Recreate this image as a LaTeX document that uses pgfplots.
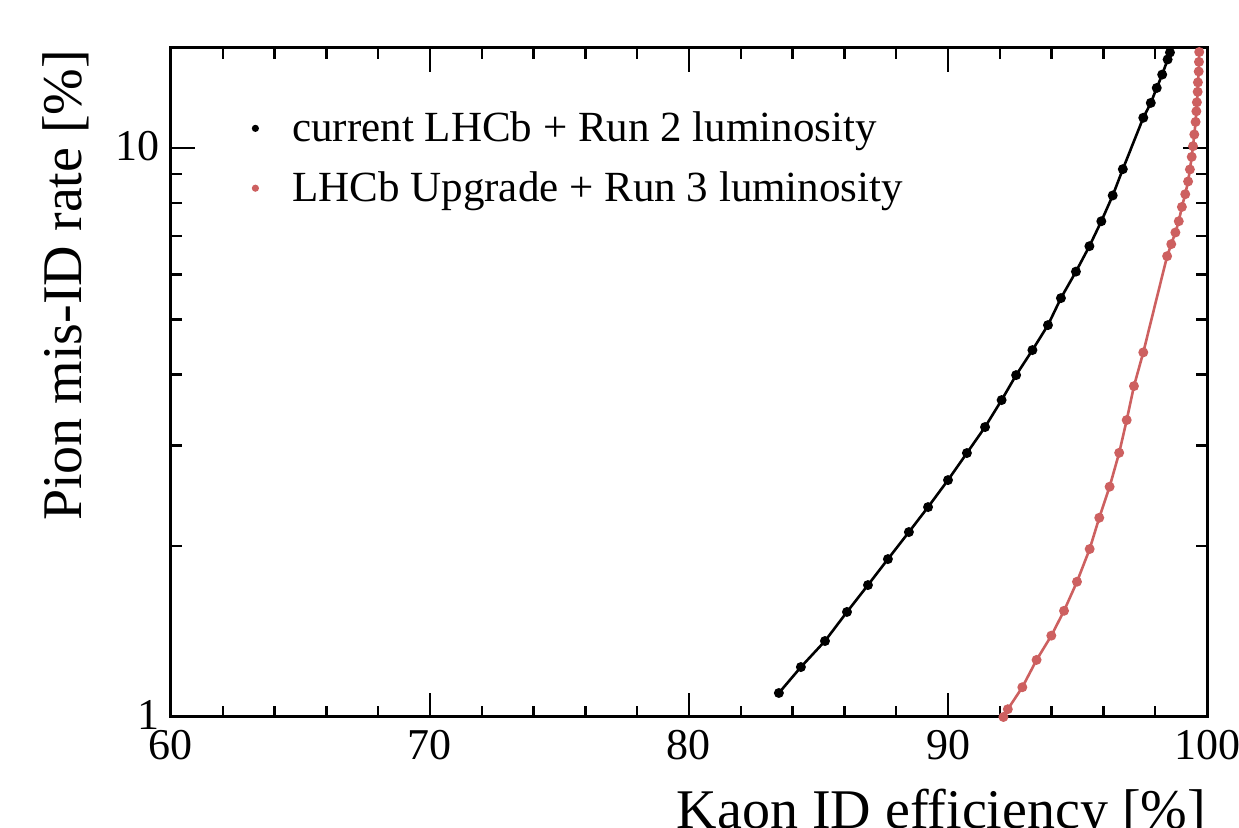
\documentclass[border=0pt]{standalone}
\usepackage{pgfplots}
\pgfplotsset{compat=1.18}
\usepackage{fontspec}
\setmainfont{Liberation Serif}
\definecolor{rootred}{RGB}{205,96,96}
\begin{document}
\begin{tikzpicture}
\begin{axis}[
  at={(0,0)}, anchor=south west,
  scale only axis,
  width=518pt, height=334.5pt,
  xmin=60, xmax=100,
  ymode=log, ymin=1, ymax=15,
  xtick={60,70,80,90,100},
  minor x tick num=4,
  ytick={1,10}, yticklabels={1,10},
  minor ytick={2,3,4,5,6,7,8,9},
  major tick length=12pt, minor tick length=5.5pt,
  tick align=inside,
  axis line style={line width=1.5pt},
  every tick/.style={black, line width=1.2pt},
  /pgf/number format/assume math mode=true,
  tick label style={font=\fontsize{22}{26}\selectfont},
  xticklabel style={yshift=-3pt},
  yticklabel style={xshift=-2.2pt, yshift=1pt},
  xlabel={Kaon ID efficiency [\%]},
  ylabel={Pion mis-ID rate [\%]},
  label style={font=\fontsize{28}{32}\selectfont},
  xlabel style={at={(axis description cs:1.006,-0.166)}, anchor=base east},
  ylabel style={at={(axis description cs:-0.0859,1.008)}, anchor=base east},
  legend style={at={(axis description cs:0.0695,0.905)}, anchor=north west,
    draw=none, fill=none, inner sep=0pt, column sep=12.5pt, row sep=13.5pt,
    font=\fontsize{21.5}{26}\selectfont, nodes={inner sep=0pt}},
  legend cell align=left,
  legend image code/.code={\path[draw=none] (-6pt,0pt) -- (6pt,0pt); \fill[#1, draw=none] (0pt,0pt) circle (1.8pt);},
]
\addplot[black, line width=1.3pt, mark=*, mark size=1.8pt] coordinates {
(83.47,1.102) (84.32,1.224) (85.25,1.360) (86.10,1.530) (86.91,1.706)
(87.68,1.895) (88.49,2.114) (89.23,2.339) (90.00,2.609) (90.73,2.911)
(91.43,3.234) (92.07,3.607) (92.63,3.991) (93.26,4.416) (93.86,4.886)
(94.36,5.450) (94.94,6.067) (95.46,6.725) (95.92,7.44) (96.36,8.257)
(96.75,9.185) (97.54,11.31) (97.83,12.01) (98.06,12.76) (98.27,13.47)
(98.48,14.32) (98.57,14.73)
};
\addlegendentry{current LHCb + Run 2 luminosity}
\addplot[rootred, line width=1.3pt, mark=*, mark size=1.8pt] coordinates {
(92.14,1.0) (92.31,1.032) (92.87,1.128) (93.42,1.260) (93.99,1.390)
(94.48,1.537) (94.98,1.729) (95.47,1.974) (95.84,2.240) (96.24,2.540)
(96.61,2.914) (96.90,3.327) (97.18,3.817) (97.54,4.375) (98.46,6.459)
(98.62,6.781) (98.78,7.109) (98.91,7.44) (99.03,7.885) (99.16,8.30)
(99.27,8.739) (99.34,9.175) (99.41,9.654) (99.46,10.08) (99.51,10.57)
(99.56,11.12) (99.59,11.61) (99.61,12.04) (99.64,12.56) (99.65,13.05)
(99.68,13.64) (99.69,14.18) (99.70,14.76)
};
\addlegendentry{LHCb Upgrade + Run 3 luminosity}
\end{axis}
\pgfresetboundingbox
\path[use as bounding box] (-85.5pt,-55.5pt) rectangle (534pt,358.5pt);
\end{tikzpicture}
\end{document}
